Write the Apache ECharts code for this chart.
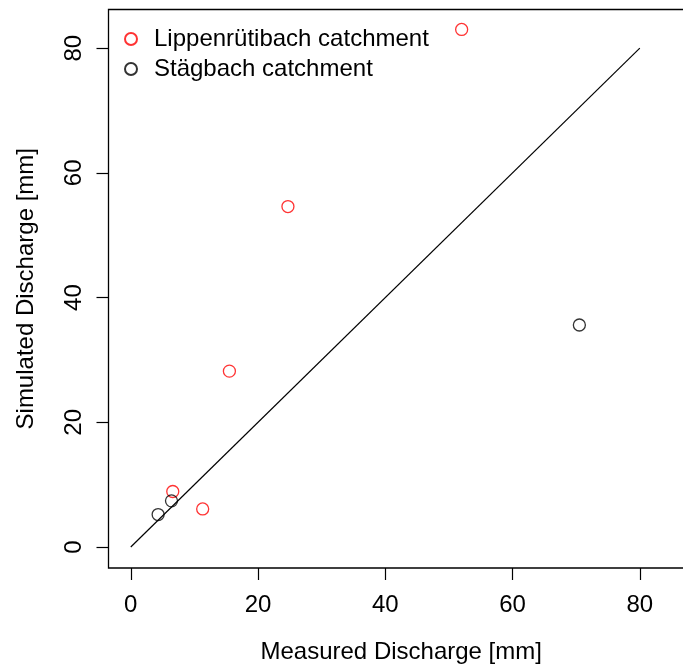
<!DOCTYPE html>
<html>
<head>
<meta charset="utf-8">
<script src="https://cdn.jsdelivr.net/npm/echarts@6/dist/echarts.min.js"></script>
<style>
  html, body { margin: 0; padding: 0; background: #fff; }
  #chart { width: 683px; height: 666px; }
</style>
</head>
<body>
<div id="chart"></div>
<script>
// measured vs simulated discharge
const lippenX = [52.0, 24.7, 15.5, 6.6, 11.3];
const lippenY = [83.0, 54.6, 28.2, 8.9, 6.1];
const staegX = [70.5, 6.4, 4.3];
const staegY = [35.6, 7.4, 5.2];
const lineX = [0, 80];
const lineY = [0, 80];
const ticks = [0, 20, 40, 60, 80];

const font = 'Liberation Sans, Arial, Helvetica, sans-serif';

const pairs = (xs, ys) => xs.map((x, i) => [x, ys[i]]);

const chart = echarts.init(document.getElementById('chart'));

chart.setOption({
    backgroundColor: '#fff',
    animation: false,
    textStyle: { fontFamily: font },
    grid: {
        left: 108.5,
        top: 9.5,
        width: 585.4,
        height: 558.5,
        outerBoundsMode: 'none',
        show: true,
        borderColor: '#000',
        borderWidth: 1.3,
        backgroundColor: 'transparent'
    },
    legend: {
        orient: 'vertical',
        left: 119,
        top: 22,
        itemGap: 6,
        itemWidth: 12,
        itemHeight: 12,
        data: ['Lippenrütibach catchment', 'Stägbach catchment'],
        textStyle: { fontSize: 24, color: '#000', fontFamily: font, padding: [0, 0, 0, 12] }
    },
    xAxis: {
        type: 'value',
        min: -3.5,
        max: 88.5,
        splitLine: { show: false },
        axisLine: { show: false, onZero: false },
        axisTick: { show: true, length: 12, lineStyle: { color: '#000', width: 1.2 },
            customValues: ticks },
        axisLabel: { fontSize: 24, color: '#000', margin: 25, fontFamily: font,
            customValues: ticks },
        name: 'Measured Discharge [mm]',
        nameLocation: 'middle',
        nameGap: 72,
        nameTextStyle: { fontSize: 24, color: '#000', fontFamily: font }
    },
    yAxis: {
        type: 'value',
        min: -3.37,
        max: 86.2,
        splitLine: { show: false },
        axisLine: { show: false, onZero: false },
        axisTick: { show: true, length: 12, lineStyle: { color: '#000', width: 1.2 },
            customValues: ticks },
        axisLabel: { fontSize: 24, color: '#000', margin: 22, rotate: 90, fontFamily: font,
            customValues: ticks },
        name: 'Simulated Discharge [mm]',
        nameLocation: 'middle',
        nameRotate: 90,
        nameGap: 70,
        nameTextStyle: { fontSize: 24, color: '#000', fontFamily: font }
    },
    series: [
        {
            name: '1:1',
            type: 'line',
            data: pairs(lineX, lineY),
            showSymbol: false,
            symbol: 'none',
            lineStyle: { color: '#000', width: 1.2 },
            silent: true
        },
        {
            name: 'Lippenrütibach catchment',
            type: 'scatter',
            data: pairs(lippenX, lippenY),
            symbol: 'circle',
            symbolSize: 12,
            itemStyle: { color: 'transparent', borderColor: '#ff0000', borderWidth: 1.3 }
        },
        {
            name: 'Stägbach catchment',
            type: 'scatter',
            data: pairs(staegX, staegY),
            symbol: 'circle',
            symbolSize: 12,
            itemStyle: { color: 'transparent', borderColor: '#000', borderWidth: 1.3 }
        }
    ]
});
</script>
</body>
</html>
